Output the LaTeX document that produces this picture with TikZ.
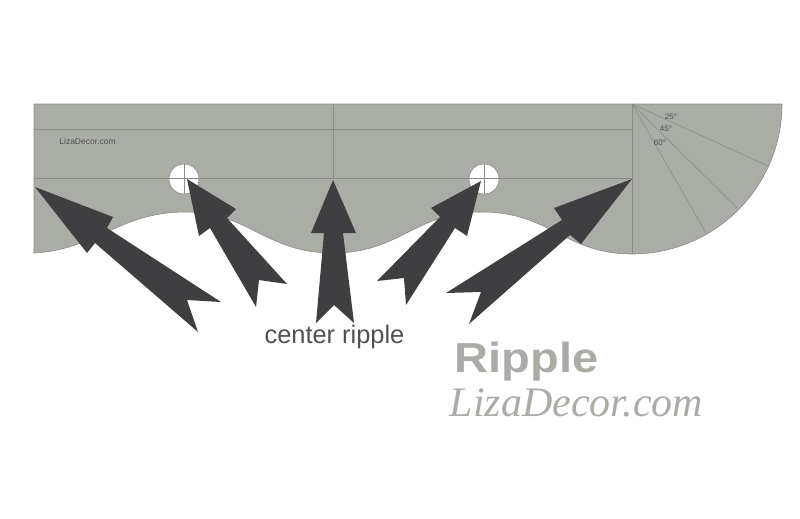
\documentclass[tikz,border=0pt]{standalone}
\usepackage{fontspec}
\setmainfont{Liberation Sans}
\newfontfamily\logofont{Liberation Serif}
\newfontfamily\titlefont[FakeStretch=1.12]{Liberation Sans}
\definecolor{valance}{HTML}{A9ADA6}
\definecolor{seam}{HTML}{898D86}
\definecolor{pointer}{HTML}{3F3F41}
\definecolor{caption}{HTML}{505052}

\begin{document}
\begin{tikzpicture}[x=1pt,y=-1pt,
		seamline/.style={draw=seam,line width=0.6pt},
		smalllabel/.style={text=caption,inner sep=0pt,font=\fontsize{8}{9}\selectfont}]
		\useasboundingbox (0,0) rectangle (800,519);
		\def\valance{(34,104) -- (782,104) arc (0:90:150) .. controls (565,254) and (550,212) .. (482,212) .. controls (415,212) and (400,253) .. (333,253) .. controls (265,253) and (250,212) .. (185,212) .. controls (120,212) and (95,250) .. (34,253) -- cycle}
		\def\firsthole{(184,179) circle (15)}
		\def\secondhole{(484,179) circle (15)}
		\def\firstarrow{(35,187) -- (113,217) -- (107,228) -- (221,302) -- (187,300) -- (198,332) -- (95,243) -- (87,253) -- cycle}
		\def\secondarrow{(187,179) -- (236,209) -- (227,218) -- (287,284) -- (259,280) -- (256,307) -- (210,228) -- (199,236) -- cycle}
		\def\thirdarrow{(333,180) -- (356,233) -- (343,233) -- (354,323) -- (334,305) -- (316,323) -- (324,233) -- (311,233) -- cycle}
		\def\fourtharrow{(481,181) -- (467,236) -- (455,228) -- (406,305) -- (404,278) -- (377,281) -- (440,217) -- (431,208) -- cycle}
		\def\fiftharrow{(632,179) -- (581,244) -- (570,235) -- (469,324) -- (481,292) -- (446,293) -- (562,220) -- (554,208) -- cycle}
		\fill[valance] \valance;
		\draw[seamline] \valance;
		% seams
		\draw[seamline] (34,129) -- (632,129);
		\draw[seamline] (34,178.5) -- (632,178.5);
		\draw[seamline] (333,104) -- (333,178.5);
		\draw[seamline] (632,104) -- (632,253);
		% corner pleats
		\draw[seamline] (632,104) -- (768,166);
		\draw[seamline] (632,104) -- (737,208);
		\draw[seamline] (632,104) -- (706,233);
		\node[smalllabel] (angleA) at (671,117) {25°};
		\node[smalllabel] (angleB) at (666,129) {45°};
		\node[smalllabel] (angleC) at (660,143) {60°};
		% holes
		\draw[seamline,fill=white] \firsthole;
		\draw[seamline,fill=white] \secondhole;
		\draw[seamline] (184,164) -- (184,194);
		\draw[seamline] (169,178.5) -- (199,178.5);
		\draw[seamline] (484,164) -- (484,194);
		\draw[seamline] (469,178.5) -- (499,178.5);
		\node[text=caption,inner sep=0pt,font=\fontsize{8.5}{10}\selectfont] (site) at (87.5,141) {LizaDecor.com};
		\fill[pointer] \firstarrow;
		\fill[pointer] \secondarrow;
		\fill[pointer] \thirdarrow;
		\fill[pointer] \fourtharrow;
		\fill[pointer] \fiftharrow;
		\node[text=caption,inner sep=0pt,anchor=base,font=\fontsize{25.4}{28}\selectfont] (center) at (334.5,343) {center ripple};
		\node[text=valance,inner sep=0pt,anchor=base,font=\titlefont\fontsize{42}{46}\selectfont\bfseries] (title) at (526.5,372) {Ripple};
		\node[text=valance,inner sep=0pt,anchor=base,font=\fontsize{42}{46}\selectfont\logofont\itshape] (logo) at (576.5,416) {LizaDecor.com};
\end{tikzpicture}
\end{document}
